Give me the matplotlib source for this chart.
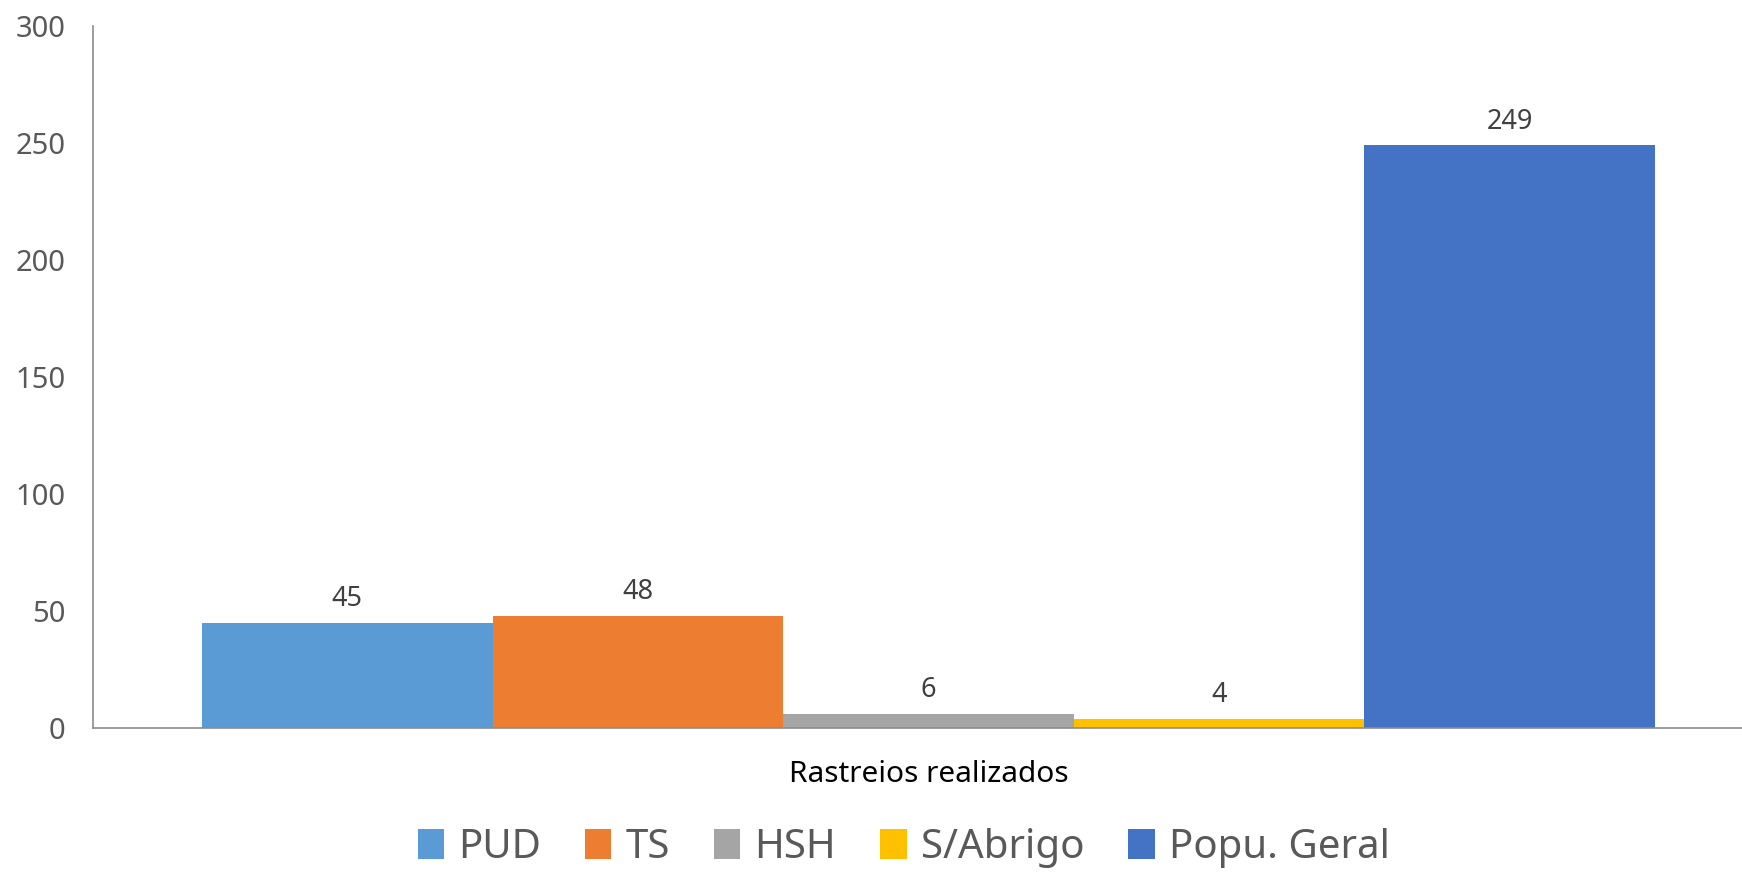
import matplotlib.pyplot as plt

categories = ['PUD', 'TS', 'HSH', 'S/Abrigo', 'Popu. Geral']
values = [45, 48, 6, 4, 249]
colors = ['#5B9BD5', '#ED7D31', '#A5A5A5', '#FFC000', '#4472C4']
group_label = 'Rastreios realizados'
yticks = [0, 50, 100, 150, 200, 250, 300]

plt.rcParams['font.family'] = ['Noto Sans', 'DejaVu Sans']

fig = plt.figure(figsize=(17.42, 8.72), dpi=100)
ax = fig.add_axes([0.0534, 0.1651, 0.9466, 0.805])

# one bar per series, side by side inside the single category
n = len(values)
offsets = [i - (n - 1) / 2 for i in range(n)]
for off, v, c, name in zip(offsets, values, colors, categories):
    bars = ax.bar(off, v, width=1.0, color=c, label=name)
    ax.bar_label(bars, padding=7, fontsize=19.5, color='#404040')

ax.set_xlim(-2.875, 2.80)
ax.set_ylim(0, 300)
ax.set_yticks(yticks)
ax.set_xticks([0])
ax.set_xticklabels([group_label])

ax.tick_params(axis='y', length=0, pad=20, labelsize=21, labelcolor='#595959')
ax.tick_params(axis='x', length=0, pad=23, labelsize=21.5, labelcolor='#000000')

for s in ['top', 'right']:
    ax.spines[s].set_visible(False)
for s in ['left', 'bottom']:
    ax.spines[s].set_color('#8C8C8C')
    ax.spines[s].set_linewidth(1.2)

fig.legend(loc='center', bbox_to_anchor=(0.5187, 0.0275), ncol=n, frameon=False,
           fontsize=29, handlelength=0.65, handleheight=0.75, handletextpad=0.35,
           columnspacing=1.1, labelcolor='#595959')

plt.savefig('out.png', dpi=100)
